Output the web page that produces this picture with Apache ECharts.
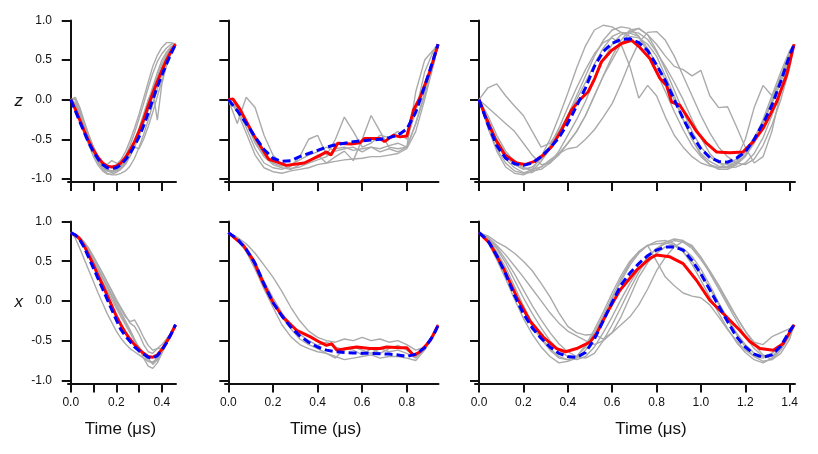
<!DOCTYPE html>
<html>
<head>
<meta charset="utf-8">
<title>z and x traces</title>
<script src="https://cdn.jsdelivr.net/npm/echarts@6/dist/echarts.min.js"></script>
<style>
  html, body { margin: 0; padding: 0; background: #fff; }
  #main { width: 818px; height: 454px; }
</style>
</head>
<body>
<div id="main"></div>
<script>
// time samples (us) for the three pulse lengths
var tA = [0,0.02,0.04,0.06,0.08,0.1,0.12,0.14,0.16,0.18,0.2,0.22,0.24,0.26,0.28,0.3,0.32,0.34,0.36,0.38,0.4,0.42,0.44,0.46];
var tB = [0,0.04,0.08,0.12,0.16,0.2,0.24,0.28,0.32,0.36,0.4,0.44,0.48,0.52,0.56,0.6,0.64,0.68,0.72,0.76,0.8,0.84,0.88,0.92,0.94];
var tC = [0,0.04,0.08,0.12,0.16,0.2,0.24,0.28,0.32,0.36,0.4,0.44,0.48,0.52,0.56,0.6,0.64,0.68,0.72,0.76,0.8,0.84,0.88,0.92,0.96,1,1.04,1.08,1.12,1.16,1.2,1.24,1.28,1.32,1.36,1.4,1.42];

// ---- z, short pulse
var zA_gray = [
  [0,0.03,-0.1,-0.28,-0.45,-0.6,-0.72,-0.82,-0.88,-0.9,-0.88,-0.82,-0.72,-0.58,-0.42,-0.24,-0.05,0.15,0.33,0.48,0.58,0.65,0.7,0.71],
  [0,-0.08,-0.22,-0.38,-0.54,-0.68,-0.8,-0.88,-0.93,-0.95,-0.95,-0.93,-0.9,-0.84,-0.74,-0.6,-0.44,-0.26,-0.06,0.14,0.32,0.48,0.6,0.7],
  [0,0.02,-0.12,-0.3,-0.5,-0.66,-0.78,-0.86,-0.9,-0.92,-0.9,-0.86,-0.78,-0.66,-0.52,-0.36,-0.18,0.0,0.12,-0.26,0.2,0.44,0.62,0.7],
  [0,-0.05,-0.18,-0.34,-0.5,-0.63,-0.73,-0.8,-0.82,-0.77,-0.8,-0.84,-0.8,-0.7,-0.56,-0.4,-0.22,-0.04,0.14,0.3,0.45,0.57,0.66,0.71],
  [0,-0.06,-0.2,-0.36,-0.52,-0.66,-0.78,-0.86,-0.9,-0.91,-0.9,-0.86,-0.8,-0.66,-0.6,-0.62,-0.5,-0.34,-0.16,0.04,0.24,0.42,0.58,0.7],
  [0,0.0,-0.14,-0.3,-0.46,-0.6,-0.72,-0.8,-0.84,-0.85,-0.82,-0.76,-0.66,-0.52,-0.36,-0.18,0.02,0.22,0.42,0.56,0.66,0.72,0.72,0.7],
  [0,-0.1,-0.26,-0.42,-0.58,-0.72,-0.83,-0.9,-0.94,-0.94,-0.92,-0.88,-0.82,-0.72,-0.6,-0.46,-0.3,-0.14,0.04,0.22,0.4,0.55,0.65,0.71],
  [0,-0.04,-0.17,-0.33,-0.5,-0.64,-0.76,-0.84,-0.89,-0.9,-0.89,-0.85,-0.78,-0.68,-0.54,-0.38,-0.2,-0.02,0.16,0.34,0.5,0.6,0.67,0.7]
];
var zA_red  = [0,-0.12,-0.26,-0.4,-0.53,-0.64,-0.73,-0.8,-0.84,-0.85,-0.84,-0.8,-0.73,-0.64,-0.53,-0.4,-0.25,-0.08,0.08,0.23,0.37,0.5,0.61,0.7];
var zA_blue = [0,-0.14,-0.28,-0.42,-0.55,-0.66,-0.75,-0.82,-0.86,-0.87,-0.86,-0.82,-0.76,-0.68,-0.58,-0.47,-0.33,-0.17,0.0,0.16,0.31,0.45,0.58,0.7];

// ---- z, middle pulse
var zB_gray = [
  [0,-0.3,0.03,-0.1,-0.45,-0.7,-0.82,-0.87,-0.85,-0.8,-0.76,-0.72,-0.62,-0.6,-0.64,-0.62,-0.6,-0.62,-0.58,-0.55,-0.6,0.1,0.5,0.63,0.7],
  [0,-0.15,-0.42,-0.7,-0.86,-0.91,-0.93,-0.9,-0.88,-0.86,-0.82,-0.8,-0.78,-0.76,-0.75,-0.74,-0.72,-0.72,-0.7,-0.68,-0.62,-0.4,0.0,0.45,0.68],
  [0,-0.12,-0.35,-0.62,-0.8,-0.86,-0.88,-0.84,-0.72,-0.5,-0.45,-0.7,-0.5,-0.22,-0.4,-0.6,-0.55,-0.45,-0.48,-0.4,-0.5,-0.15,0.35,0.62,0.7],
  [0,-0.08,-0.28,-0.55,-0.72,-0.82,-0.86,-0.88,-0.82,-0.78,-0.7,-0.8,-0.72,-0.65,-0.77,-0.5,-0.2,-0.4,-0.6,-0.62,-0.6,-0.3,0.1,0.5,0.69],
  [0,-0.1,-0.3,-0.52,-0.7,-0.8,-0.84,-0.82,-0.76,-0.7,-0.66,-0.6,-0.65,-0.62,-0.6,-0.66,-0.6,-0.66,-0.62,-0.66,-0.6,-0.3,0.05,0.45,0.7]
];
var zB_red = [[0,0],[0.02,0.01],[0.05,-0.11],[0.11,-0.43],[0.18,-0.75],[0.22,-0.79],[0.26,-0.83],[0.34,-0.8],[0.4,-0.72],[0.44,-0.66],[0.46,-0.7],[0.49,-0.55],[0.55,-0.56],[0.59,-0.545],[0.61,-0.49],[0.68,-0.49],[0.7,-0.53],[0.74,-0.45],[0.77,-0.47],[0.8,-0.46],[0.83,-0.13],[0.86,0.03],[0.905,0.37],[0.94,0.7]];
var zB_blue = [0,-0.14,-0.3,-0.47,-0.63,-0.74,-0.78,-0.77,-0.72,-0.68,-0.64,-0.6,-0.57,-0.55,-0.53,-0.52,-0.51,-0.5,-0.48,-0.45,-0.37,-0.16,0.17,0.52,0.7];

// ---- z, long pulse
var zC_gray = [
  [0,-0.35,-0.65,-0.85,-0.93,-0.95,-0.9,-0.78,-0.62,-0.42,-0.2,0.05,0.3,0.55,0.75,0.88,0.92,0.9,0.8,0.6,0.35,0.1,-0.15,-0.38,-0.58,-0.72,-0.82,-0.86,-0.86,-0.82,-0.72,-0.55,-0.3,0.0,0.3,0.6,0.7],
  [0,0.15,0.2,0.05,-0.08,-0.2,-0.4,-0.6,-0.55,-0.4,-0.2,0.0,0.22,0.45,0.65,0.8,0.85,0.84,0.8,0.65,0.45,0.25,0.0,-0.25,-0.5,-0.68,-0.78,-0.84,-0.85,-0.8,-0.7,-0.52,-0.3,-0.02,0.28,0.58,0.7],
  [0,-0.1,-0.2,-0.3,-0.4,-0.55,-0.7,-0.82,-0.8,-0.7,-0.55,-0.4,-0.2,0.05,0.3,0.5,0.7,0.85,0.9,0.82,0.62,0.38,0.12,-0.15,-0.4,-0.6,-0.72,-0.8,-0.82,-0.75,-0.5,-0.1,0.18,0.05,0.25,0.55,0.7],
  [0,-0.3,-0.55,-0.72,-0.82,-0.88,-0.85,-0.75,-0.58,-0.36,-0.1,0.15,0.38,0.58,0.72,0.78,0.7,0.42,0.02,0.18,0.05,-0.22,-0.45,-0.6,-0.72,-0.8,-0.84,-0.86,-0.84,-0.78,-0.66,-0.48,-0.28,-0.05,0.22,0.52,0.7],
  [0,-0.25,-0.5,-0.68,-0.8,-0.86,-0.88,-0.85,-0.78,-0.68,-0.55,-0.4,-0.2,0.05,0.3,0.55,0.75,0.88,0.9,0.82,0.7,0.55,0.42,0.38,0.3,0.37,0.05,-0.1,-0.09,-0.34,-0.6,-0.8,-0.72,-0.4,0.1,0.55,0.7],
  [0,-0.28,-0.55,-0.75,-0.86,-0.92,-0.92,-0.85,-0.76,-0.68,-0.62,-0.6,-0.5,-0.38,-0.22,-0.05,0.2,0.48,0.72,0.85,0.86,0.75,0.55,0.3,0.05,-0.2,-0.42,-0.6,-0.72,-0.8,-0.82,-0.75,-0.58,-0.32,0.0,0.4,0.7],
  [0,-0.35,-0.62,-0.8,-0.9,-0.93,-0.88,-0.72,-0.5,-0.22,0.08,0.4,0.68,0.88,0.94,0.92,0.85,0.8,0.78,0.7,0.55,0.3,0.05,-0.25,-0.5,-0.7,-0.82,-0.88,-0.88,-0.82,-0.7,-0.5,-0.25,0.05,0.35,0.62,0.7],
  [0,-0.2,-0.45,-0.65,-0.78,-0.86,-0.9,-0.88,-0.8,-0.65,-0.45,-0.25,-0.02,0.25,0.5,0.7,0.82,0.86,0.84,0.76,0.6,0.42,0.22,0.0,-0.25,-0.48,-0.68,-0.8,-0.86,-0.85,-0.8,-0.68,-0.48,-0.2,0.12,0.48,0.7]
];
var zC_red = [[0,0],[0.027,-0.195],[0.072,-0.49],[0.117,-0.7],[0.17,-0.8],[0.207,-0.82],[0.25,-0.78],[0.29,-0.7],[0.327,-0.595],[0.372,-0.385],[0.417,-0.13],[0.455,0.0],[0.492,0.1],[0.522,0.27],[0.552,0.48],[0.597,0.62],[0.642,0.71],[0.688,0.75],[0.725,0.66],[0.77,0.52],[0.815,0.27],[0.845,0.18],[0.868,-0.03],[0.905,-0.07],[0.935,-0.2],[0.98,-0.4],[1.025,-0.55],[1.07,-0.66],[1.13,-0.67],[1.19,-0.66],[1.236,-0.53],[1.281,-0.36],[1.341,-0.03],[1.386,0.31],[1.42,0.7]];
var zC_blue = [0,-0.31,-0.58,-0.74,-0.81,-0.83,-0.8,-0.72,-0.61,-0.48,-0.3,-0.08,0.15,0.42,0.61,0.71,0.76,0.77,0.72,0.62,0.44,0.24,0.0,-0.24,-0.45,-0.62,-0.73,-0.78,-0.79,-0.74,-0.66,-0.5,-0.3,-0.07,0.23,0.56,0.7];

// ---- x, short pulse
var xA_gray = [
  [0.86,0.79,0.66,0.52,0.38,0.24,0.1,-0.03,-0.16,-0.27,-0.38,-0.47,-0.54,-0.6,-0.64,-0.68,-0.72,-0.76,-0.77,-0.72,-0.64,-0.54,-0.43,-0.31],
  [0.86,0.84,0.8,0.74,0.66,0.56,0.45,0.34,0.23,0.12,0.0,-0.1,-0.2,-0.26,-0.24,-0.34,-0.46,-0.56,-0.62,-0.6,-0.55,-0.48,-0.4,-0.3],
  [0.86,0.84,0.79,0.72,0.63,0.52,0.41,0.3,0.19,0.08,-0.03,-0.14,-0.25,-0.36,-0.48,-0.6,-0.72,-0.82,-0.85,-0.78,-0.66,-0.54,-0.42,-0.3],
  [0.86,0.83,0.78,0.7,0.61,0.5,0.39,0.28,0.17,0.06,-0.06,-0.17,-0.28,-0.38,-0.5,-0.6,-0.68,-0.76,-0.78,-0.74,-0.64,-0.52,-0.4,-0.3],
  [0.86,0.84,0.8,0.73,0.65,0.55,0.45,0.35,0.24,0.13,0.02,-0.08,-0.18,-0.28,-0.32,-0.42,-0.55,-0.64,-0.66,-0.6,-0.6,-0.52,-0.42,-0.3],
  [0.86,0.82,0.76,0.67,0.57,0.46,0.35,0.24,0.13,0.02,-0.09,-0.2,-0.3,-0.4,-0.5,-0.58,-0.66,-0.72,-0.8,-0.74,-0.62,-0.5,-0.4,-0.3]
];
var xA_red  = [0.86,0.83,0.78,0.69,0.57,0.45,0.32,0.2,0.07,-0.06,-0.19,-0.3,-0.4,-0.48,-0.55,-0.61,-0.66,-0.7,-0.71,-0.68,-0.61,-0.52,-0.42,-0.3];
var xA_blue = [0.86,0.83,0.77,0.67,0.54,0.41,0.28,0.15,0.02,-0.11,-0.24,-0.36,-0.44,-0.51,-0.58,-0.63,-0.67,-0.71,-0.72,-0.69,-0.62,-0.53,-0.42,-0.3];

// ---- x, middle pulse
var xB_gray = [
  [0.86,0.8,0.72,0.6,0.45,0.3,0.12,-0.08,-0.25,-0.38,-0.46,-0.5,-0.52,-0.48,-0.5,-0.46,-0.5,-0.48,-0.52,-0.5,-0.55,-0.62,-0.58,-0.42,-0.3],
  [0.86,0.77,0.62,0.4,0.15,-0.08,-0.3,-0.45,-0.55,-0.6,-0.64,-0.66,-0.7,-0.74,-0.72,-0.7,-0.68,-0.72,-0.7,-0.7,-0.72,-0.75,-0.62,-0.44,-0.3],
  [0.86,0.78,0.64,0.45,0.2,-0.02,-0.2,-0.35,-0.48,-0.55,-0.6,-0.66,-0.72,-0.6,-0.62,-0.68,-0.6,-0.66,-0.6,-0.56,-0.62,-0.7,-0.6,-0.42,-0.3],
  [0.86,0.79,0.67,0.5,0.25,0.04,-0.15,-0.3,-0.42,-0.5,-0.56,-0.52,-0.58,-0.62,-0.58,-0.62,-0.66,-0.6,-0.64,-0.62,-0.66,-0.72,-0.6,-0.44,-0.3]
];
var xB_red = [[0,0.86],[0.067,0.7],[0.112,0.51],[0.157,0.22],[0.202,-0.03],[0.247,-0.21],[0.306,-0.37],[0.366,-0.45],[0.41,-0.52],[0.44,-0.56],[0.463,-0.54],[0.486,-0.62],[0.53,-0.6],[0.575,-0.58],[0.635,-0.6],[0.68,-0.6],[0.71,-0.58],[0.77,-0.59],[0.8,-0.59],[0.83,-0.685],[0.86,-0.64],[0.905,-0.5],[0.94,-0.306]];
var xB_blue = [0.86,0.78,0.65,0.47,0.21,-0.02,-0.19,-0.33,-0.44,-0.52,-0.58,-0.62,-0.64,-0.65,-0.655,-0.66,-0.66,-0.665,-0.67,-0.68,-0.7,-0.67,-0.59,-0.43,-0.31];

// ---- x, long pulse
var xC_gray = [
  [0.86,0.82,0.74,0.68,0.6,0.5,0.38,0.22,0.05,-0.15,-0.32,-0.4,-0.43,-0.42,-0.48,-0.4,-0.2,0.05,0.3,0.48,0.6,0.68,0.7,0.66,0.56,0.4,0.2,-0.02,-0.22,-0.4,-0.55,-0.66,-0.7,-0.66,-0.55,-0.4,-0.3],
  [0.86,0.8,0.7,0.58,0.44,0.3,0.15,0.0,-0.15,-0.28,-0.38,-0.44,-0.5,-0.55,-0.5,-0.4,-0.3,-0.2,-0.05,0.15,0.38,0.55,0.68,0.75,0.7,0.55,0.35,0.15,-0.05,-0.25,-0.45,-0.6,-0.7,-0.7,-0.58,-0.42,-0.3],
  [0.86,0.74,0.52,0.28,0.02,-0.22,-0.42,-0.58,-0.7,-0.78,-0.76,-0.72,-0.62,-0.45,-0.22,0.02,0.25,0.45,0.6,0.7,0.75,0.76,0.72,0.62,0.46,0.26,0.05,-0.15,-0.35,-0.52,-0.65,-0.74,-0.78,-0.72,-0.6,-0.42,-0.3],
  [0.86,0.77,0.6,0.38,0.12,-0.12,-0.32,-0.48,-0.62,-0.72,-0.74,-0.7,-0.58,-0.4,-0.18,0.05,0.28,0.48,0.62,0.7,0.5,0.3,0.19,0.1,0.06,0.04,-0.05,-0.2,-0.36,-0.5,-0.62,-0.7,-0.72,-0.66,-0.55,-0.4,-0.3],
  [0.86,0.79,0.66,0.48,0.26,0.04,-0.16,-0.34,-0.5,-0.62,-0.7,-0.74,-0.7,-0.58,-0.4,-0.2,0.02,0.22,0.4,0.55,0.66,0.74,0.78,0.76,0.68,0.55,0.38,0.2,0.0,-0.2,-0.38,-0.52,-0.55,-0.45,-0.4,-0.35,-0.3],
  [0.86,0.78,0.62,0.42,0.18,-0.06,-0.28,-0.46,-0.6,-0.7,-0.74,-0.7,-0.56,-0.36,-0.14,0.1,0.32,0.5,0.62,0.7,0.72,0.73,0.7,0.62,0.5,0.34,0.16,-0.04,-0.24,-0.42,-0.58,-0.7,-0.76,-0.74,-0.62,-0.44,-0.3],
  [0.86,0.8,0.68,0.52,0.34,0.14,-0.06,-0.24,-0.4,-0.54,-0.64,-0.7,-0.72,-0.66,-0.5,-0.3,-0.08,0.15,0.36,0.54,0.66,0.72,0.76,0.74,0.66,0.52,0.36,0.18,-0.02,-0.2,-0.38,-0.55,-0.68,-0.74,-0.66,-0.48,-0.3]
];
var xC_red = [[0,0.86],[0.05,0.72],[0.11,0.41],[0.17,0.05],[0.229,-0.25],[0.29,-0.455],[0.35,-0.6],[0.39,-0.64],[0.44,-0.6],[0.5,-0.52],[0.53,-0.41],[0.575,-0.16],[0.635,0.135],[0.71,0.387],[0.77,0.535],[0.8,0.578],[0.86,0.555],[0.92,0.47],[0.98,0.26],[1.04,0.008],[1.115,-0.2],[1.175,-0.37],[1.22,-0.51],[1.266,-0.6],[1.326,-0.62],[1.37,-0.54],[1.42,-0.3]];
var xC_blue = [0.86,0.76,0.57,0.34,0.07,-0.16,-0.34,-0.47,-0.58,-0.66,-0.7,-0.71,-0.65,-0.48,-0.25,-0.02,0.2,0.35,0.47,0.57,0.64,0.68,0.68,0.64,0.51,0.34,0.14,-0.06,-0.26,-0.45,-0.58,-0.67,-0.71,-0.68,-0.57,-0.38,-0.3];

// axis ticks / labels
var yTicks = [-1, -0.5, 0, 0.5, 1];
var xTicksA = [0, 0.1, 0.2, 0.3, 0.4], xLabelsA = [0, 0.2, 0.4];
var xTicksB = [0, 0.2, 0.4, 0.6, 0.8];
var xTicksC = [0, 0.2, 0.4, 0.6, 0.8, 1.0, 1.2, 1.4];
var rowNames = ['z', 'x'];

function zip(t, v) {
  var out = [];
  for (var i = 0; i < t.length; i++) out.push([t[i], v[i]]);
  return out;
}

var FONT = '"Liberation Sans", Arial, Helvetica, sans-serif';
var INK = '#111';

// layout of the columns / rows
var cols = [
  { left: 68,  width: 108,   min: -0.012, max: 0.462, ticks: xTicksA, labels: xLabelsA, nameShift: [0, 3, 0, 0] },
  { left: 225, width: 213.5, min: -0.015, max: 0.942, ticks: xTicksB, labels: xTicksB, nameShift: [0, 12, 0, 0] },
  { left: 475, width: 320,   min: -0.018, max: 1.424, ticks: xTicksC, labels: xTicksC, nameShift: [0, 0, 0, 32] }
];
var rows = [
  { top: 20.5,  height: 161.5 },
  { top: 221.5, height: 162 }
];

var panels = [
  { t: tA, gray: zA_gray, red: zip(tA, zA_red), blue: zA_blue },
  { t: tB, gray: zB_gray, red: zB_red,          blue: zB_blue },
  { t: tC, gray: zC_gray, red: zC_red,          blue: zC_blue },
  { t: tA, gray: xA_gray, red: zip(tA, xA_red), blue: xA_blue },
  { t: tB, gray: xB_gray, red: xB_red,          blue: xB_blue },
  { t: tC, gray: xC_gray, red: xC_red,          blue: xC_blue }
];

var grids = [], xAxes = [], yAxes = [], series = [];

for (var r = 0; r < 2; r++) {
  for (var c = 0; c < 3; c++) {
    var i = r * 3 + c;
    var col = cols[c], row = rows[r];
    grids.push({ left: col.left, top: row.top, width: col.width, height: row.height });

    xAxes.push({
      gridIndex: i, type: 'value', min: col.min, max: col.max,
      axisLine: { onZero: false, lineStyle: { color: INK, width: 2 } },
      axisTick: { show: true, length: 9, customValues: col.ticks, lineStyle: { color: INK, width: 2 } },
      axisLabel: {
        show: r === 1, customValues: col.labels, margin: 13,
        fontSize: 12, color: INK, fontFamily: FONT,
        formatter: function (v) { return v.toFixed(1); }
      },
      splitLine: { show: false },
      name: r === 1 ? 'Time (\u03bcs)' : '',
      nameLocation: 'middle', nameGap: 37,
      nameTextStyle: { fontSize: 17, color: INK, fontFamily: FONT, padding: col.nameShift }
    });

    yAxes.push({
      gridIndex: i, type: 'value', min: -1.04, max: 1,
      axisLine: { lineStyle: { color: INK, width: 2 } },
      axisTick: { show: true, length: 9, customValues: yTicks, lineStyle: { color: INK, width: 2 } },
      axisLabel: {
        show: c === 0, customValues: yTicks, margin: 16,
        fontSize: 12, color: INK, fontFamily: FONT,
        formatter: function (v) { return v.toFixed(1); }
      },
      splitLine: { show: false },
      name: c === 0 ? rowNames[r] : '',
      nameLocation: 'middle', nameRotate: 0, nameGap: 45,
      nameTextStyle: { fontSize: 17, fontStyle: 'italic', color: INK, fontFamily: FONT }
    });

    var p = panels[i];
    p.gray.forEach(function (g) {
      series.push({
        type: 'line', xAxisIndex: i, yAxisIndex: i, data: zip(p.t, g),
        symbol: 'none', silent: true, z: 1,
        lineStyle: { color: '#aaaaaa', width: 1.4 }
      });
    });
    series.push({
      type: 'line', xAxisIndex: i, yAxisIndex: i, data: p.red,
      symbol: 'none', silent: true, z: 2,
      lineStyle: { color: '#ff0000', width: 3 }
    });
    series.push({
      type: 'line', xAxisIndex: i, yAxisIndex: i, data: zip(p.t, p.blue),
      symbol: 'none', silent: true, z: 3,
      lineStyle: { color: '#0000ff', width: 3, type: [8, 4] }
    });
  }
}

var chart = echarts.init(document.getElementById('main'), null, { renderer: 'canvas' });
chart.setOption({
  backgroundColor: '#ffffff',
  animation: false,
  grid: grids,
  xAxis: xAxes,
  yAxis: yAxes,
  series: series
});
</script>
</body>
</html>
